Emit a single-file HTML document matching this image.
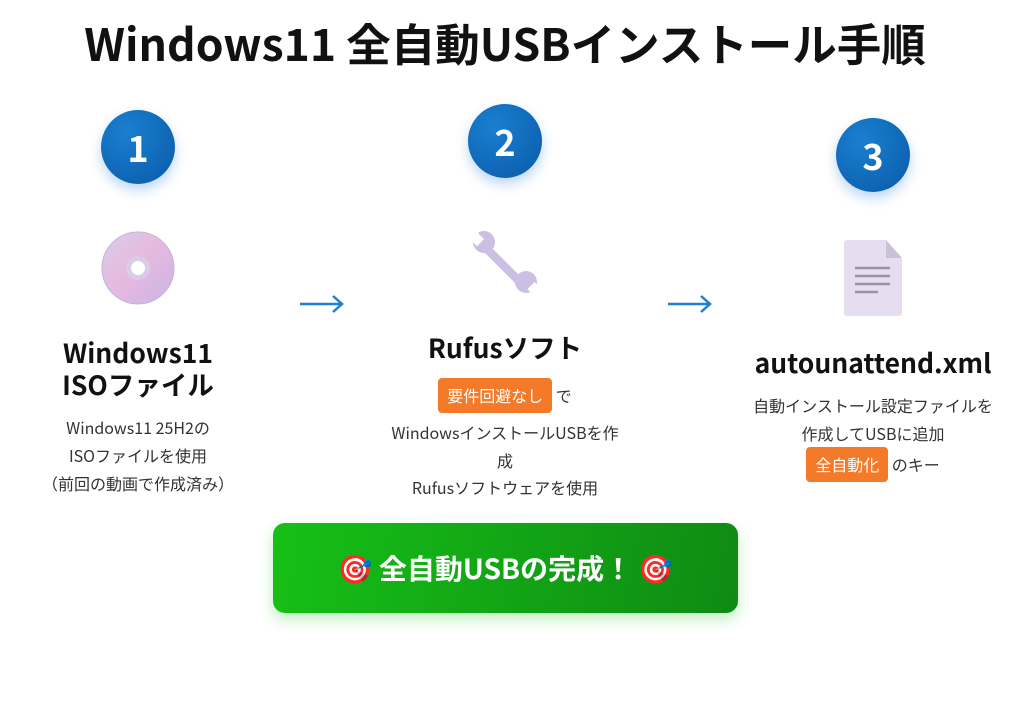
<!DOCTYPE html>
<html><head><meta charset="utf-8"><style>
body{margin:0;width:1024px;height:707px;background:#fff;position:relative;overflow:hidden;font-family:"Noto Sans CJK JP","Liberation Sans",sans-serif;color:#222}
.a{position:absolute;text-align:center;white-space:nowrap}
.num{position:absolute;width:74px;height:74px;border-radius:50%;background:radial-gradient(circle at 35% 30%,#1a7fd0,#0a5aa8);color:#fff;font-weight:bold;font-size:36px;line-height:74px;text-align:center;box-shadow:0 6px 12px rgba(30,120,220,.3)}
.h{font-weight:bold;font-size:26.5px;color:#111;line-height:32px}
.d{font-size:16px;color:#333;line-height:28px}
.b{display:inline-block;background:#f47a2a;color:#fff;border-radius:4px;padding:0 9px;line-height:35px;font-size:16px}
</style></head><body>
<div class="a" style="left:0;width:1010px;top:11px;font-size:44.5px;font-weight:bold;color:#111;line-height:62px">Windows11 全自動USBインストール手順</div>

<div class="num" style="left:101px;top:110px">1</div>
<div class="num" style="left:468px;top:104px">2</div>
<div class="num" style="left:836px;top:118px">3</div>

<svg style="position:absolute;left:100px;top:230px" width="76" height="76" viewBox="0 0 76 76">
<defs><linearGradient id="g" x1="0" y1="0" x2="1" y2="1"><stop offset="0" stop-color="#d9cfe6"/><stop offset=".5" stop-color="#e6b8df"/><stop offset="1" stop-color="#c7b6e4"/></linearGradient></defs>
<circle cx="38" cy="38" r="36" fill="url(#g)" stroke="#c4b4dc"/>
<circle cx="38" cy="38" r="12" fill="#d8cde6"/><circle cx="38" cy="38" r="7" fill="#fff"/></svg>

<svg style="position:absolute;left:470px;top:228px" width="72" height="68" viewBox="0 0 72 68">
<g fill="#cbbfe4"><path d="M16 14 L56 54 L50 60 L10 20 Z"/><circle cx="14" cy="14" r="11"/><circle cx="56" cy="54" r="11"/></g>
<rect x="6" y="0" width="10" height="12" fill="#fff" transform="rotate(-45 14 14)"/>
<rect x="52" y="60" width="10" height="12" fill="#fff" transform="rotate(-45 56 54)"/></svg>

<svg style="position:absolute;left:844px;top:240px" width="60" height="76" viewBox="0 0 60 76">
<path d="M3 0 H42 L58 18 V73 a3 3 0 0 1 -3 3 H3 a3 3 0 0 1 -3 -3 V3 a3 3 0 0 1 3 -3Z" fill="#e6def0"/>
<path d="M42 0 L58 18 H42Z" fill="#c9c2d2"/>
<g stroke="#9a93a4" stroke-width="2.5"><line x1="11" y1="28" x2="46" y2="28"/><line x1="11" y1="36" x2="46" y2="36"/><line x1="11" y1="44" x2="46" y2="44"/><line x1="11" y1="52" x2="34" y2="52"/></g></svg>

<svg style="position:absolute;left:298px;top:292px" width="50" height="24"><path d="M2 12 H44 M35 4 L44 12 L35 20" stroke="#1e7fd8" stroke-width="2.5" fill="none"/></svg>
<svg style="position:absolute;left:666px;top:292px" width="50" height="24"><path d="M2 12 H44 M35 4 L44 12 L35 20" stroke="#1e7fd8" stroke-width="2.5" fill="none"/></svg>

<div class="a h" style="left:-12px;width:300px;top:336px">Windows11<br>ISOファイル</div>
<div class="a d" style="left:-12px;width:300px;top:413px">Windows11 25H2の<br>ISOファイルを使用<br>（前回の動画で作成済み）</div>

<div class="a h" style="left:355px;width:300px;top:331px">Rufusソフト</div>
<div class="a d" style="left:355px;width:300px;top:378px"><span class="b">要件回避なし</span> で</div>
<div class="a d" style="left:355px;width:300px;top:419px;line-height:27.5px">WindowsインストールUSBを作<br>成<br>Rufusソフトウェアを使用</div>

<div class="a h" style="left:723px;width:300px;top:346px">autounattend.xml</div>
<div class="a d" style="left:723px;width:300px;top:391px">自動インストール設定ファイルを<br>作成してUSBに追加</div>
<div class="a d" style="left:723px;width:300px;top:447px"><span class="b">全自動化</span> のキー</div>

<div style="position:absolute;left:273px;top:523px;width:465px;height:90px;border-radius:12px;background:linear-gradient(100deg,#16c016,#0f8a14);box-shadow:0 6px 14px rgba(40,200,40,.3);color:#fff;font-weight:bold;font-size:28px;line-height:90px;text-align:center">🎯 全自動USBの完成！ 🎯</div>
</body></html>
